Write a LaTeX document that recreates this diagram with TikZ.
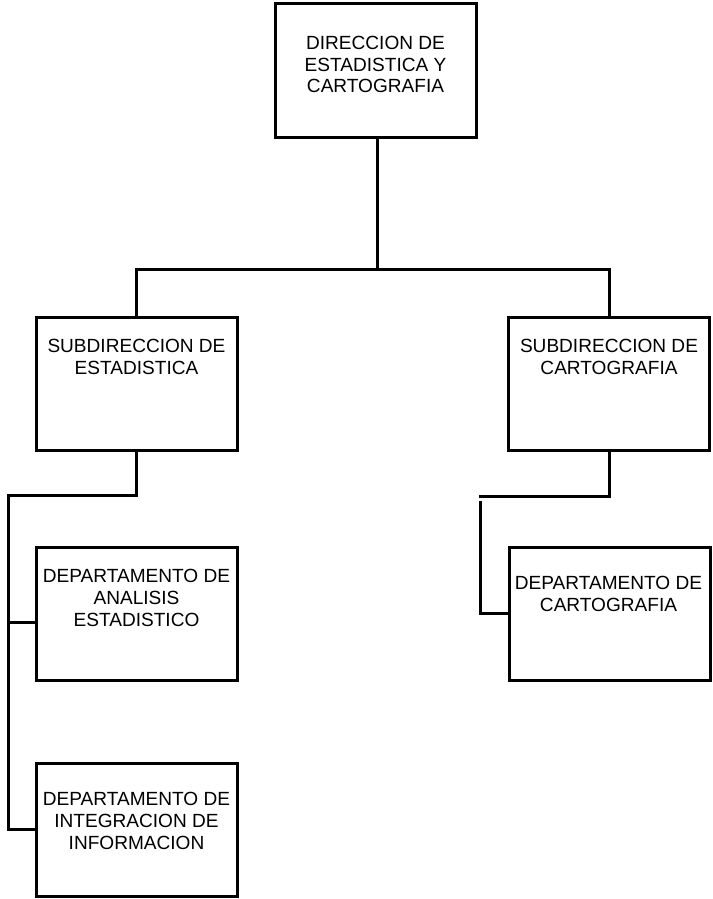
\documentclass[tikz,border=0pt]{standalone}
\usepackage{fontspec}
\setmainfont{Liberation Sans}
\begin{document}
\begin{tikzpicture}[x=0.75pt,y=-0.75pt,
  orgbox/.style={draw=black,line width=2.25pt,rectangle,inner sep=0pt,minimum width=150.75pt,minimum height=99.75pt},
  orgtext/.style={align=center,inner sep=0pt,font=\fontsize{14.3pt}{16.3pt}\selectfont},
  conn/.style={line width=2.25pt,line cap=rect}]
\useasboundingbox (0,0) rectangle (713,899);
% boxes
\node[orgbox] (top) at (375.5,70.5) {};
\node[orgbox] (subE) at (136.5,383.5) {};
\node[orgbox] (subC) at (609,383.5) {};
\node[orgbox] (depA) at (136.5,613.5) {};
\node[orgbox] (depI) at (136.5,829.5) {};
\node[orgbox] (depC) at (609.5,613.5) {};
% texts
\node[orgtext] (tTop) at (375.5,64.5) {DIRECCION DE\\ESTADISTICA Y\\CARTOGRAFIA};
\node[orgtext] (tSubE) at (136.5,357) {SUBDIRECCION DE\\ESTADISTICA};
\node[orgtext] (tSubC) at (609,357) {SUBDIRECCION DE\\CARTOGRAFIA};
\node[orgtext] (tDepA) at (136.5,598) {DEPARTAMENTO DE\\ANALISIS\\ESTADISTICO};
\node[orgtext] (tDepI) at (136.5,821) {DEPARTAMENTO DE\\INTEGRACION DE\\INFORMACION};
\node[orgtext] (tDepC) at (608.5,594) {DEPARTAMENTO DE\\CARTOGRAFIA};
% junction coordinates
\coordinate (j1) at (377,269);
\coordinate (jL) at (8,495);
\coordinate (bA) at (8,622);
\coordinate (bI) at (8,829);
\coordinate (jR) at (480,496);
\coordinate (jR2) at (480,502);
\coordinate (bC) at (480,613);
% connectors
\draw[conn] (top.south -| j1) -- (j1);
\draw[conn] (subE.north) |- (j1) -| (subC.north);
\draw[conn] (subE.south) |- (jL) -- (bI) -- (bI -| depI.west);
\draw[conn] (bA) -- (bA -| depA.west);
\draw[conn] (subC.south) |- (jR);
\draw[conn] (jR2) -- (bC) -- (bC -| depC.west);
\end{tikzpicture}
\end{document}
